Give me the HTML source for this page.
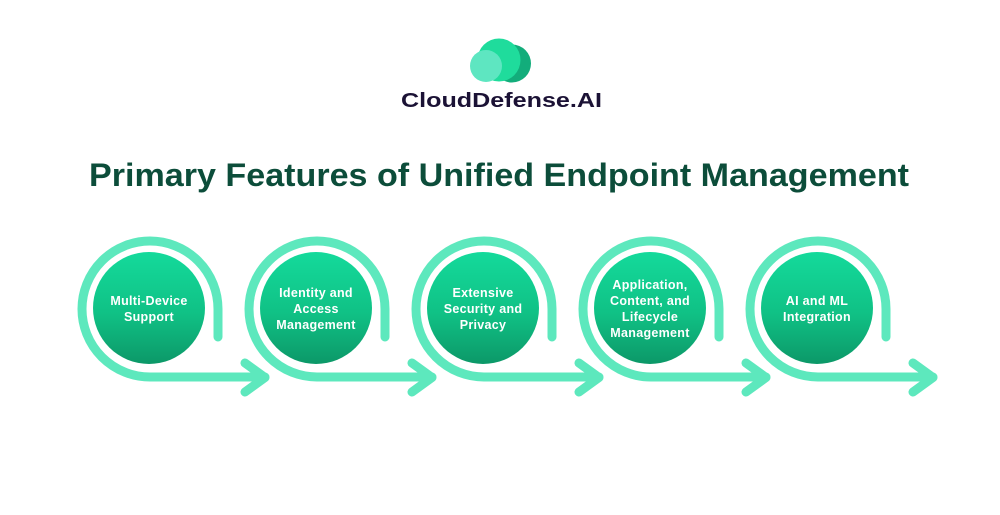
<!DOCTYPE html>
<html>
<head>
<meta charset="utf-8">
<style>
  html, body { margin: 0; padding: 0; background: #ffffff; }
  body { width: 1000px; height: 515px; overflow: hidden; }
  svg { display: block; }
  .lbl { font-family: "Liberation Sans", sans-serif; font-weight: bold; font-size: 12.5px; fill: #ffffff; text-anchor: middle; letter-spacing: 0.3px; }
</style>
</head>
<body>
<svg width="1000" height="515" viewBox="0 0 1000 515" xmlns="http://www.w3.org/2000/svg">
  <defs>
    <linearGradient id="cg" x1="0" y1="0" x2="0" y2="1">
      <stop offset="0" stop-color="#14da9b"/>
      <stop offset="0.55" stop-color="#10c185"/>
      <stop offset="1" stop-color="#0c9868"/>
    </linearGradient>
  </defs>
  <rect width="1000" height="515" fill="#ffffff"/>

  <!-- Logo -->
  <circle cx="512" cy="63.5" r="19" fill="#13ad7b"/>
  <circle cx="499" cy="60" r="21.5" fill="#1fdc9c"/>
  <circle cx="486" cy="66" r="16" fill="#5ee6c1"/>
  <text x="401" y="107" textLength="201" lengthAdjust="spacingAndGlyphs" font-family="Liberation Sans, sans-serif" font-weight="bold" font-size="20" fill="#1b1235">CloudDefense.AI</text>

  <!-- Title -->
  <text x="89" y="186" textLength="820" lengthAdjust="spacingAndGlyphs" font-family="Liberation Sans, sans-serif" font-weight="bold" font-size="32" fill="#0c4d3a">Primary Features of Unified Endpoint Management</text>

  <!-- Loops -->
  <g fill="none" stroke="#5de8bd" stroke-width="9" stroke-linecap="round" stroke-linejoin="round">
    <path d="M218,337 L218,309 A68,68 0 1 0 150,377 L265,377 M245,363 L265,377.5 L245,392"/>
    <path d="M385,337 L385,309 A68,68 0 1 0 317,377 L432,377 M412,363 L432,377.5 L412,392"/>
    <path d="M552,337 L552,309 A68,68 0 1 0 484,377 L599,377 M579,363 L599,377.5 L579,392"/>
    <path d="M719,337 L719,309 A68,68 0 1 0 651,377 L766,377 M746,363 L766,377.5 L746,392"/>
    <path d="M886,337 L886,309 A68,68 0 1 0 818,377 L933,377 M913,363 L933,377.5 L913,392"/>
  </g>

  <!-- Circles -->
  <circle cx="149" cy="308" r="56" fill="url(#cg)"/>
  <circle cx="316" cy="308" r="56" fill="url(#cg)"/>
  <circle cx="483" cy="308" r="56" fill="url(#cg)"/>
  <circle cx="650" cy="308" r="56" fill="url(#cg)"/>
  <circle cx="817" cy="308" r="56" fill="url(#cg)"/>

  <!-- Labels -->
  <text class="lbl" x="149" y="305">Multi-Device</text>
  <text class="lbl" x="149" y="321">Support</text>

  <text class="lbl" x="316" y="297">Identity and</text>
  <text class="lbl" x="316" y="313">Access</text>
  <text class="lbl" x="316" y="329">Management</text>

  <text class="lbl" x="483" y="297">Extensive</text>
  <text class="lbl" x="483" y="313">Security and</text>
  <text class="lbl" x="483" y="329">Privacy</text>

  <text class="lbl" x="650" y="289">Application,</text>
  <text class="lbl" x="650" y="305">Content, and</text>
  <text class="lbl" x="650" y="321">Lifecycle</text>
  <text class="lbl" x="650" y="337">Management</text>

  <text class="lbl" x="817" y="305">AI and ML</text>
  <text class="lbl" x="817" y="321">Integration</text>
</svg>
</body>
</html>
